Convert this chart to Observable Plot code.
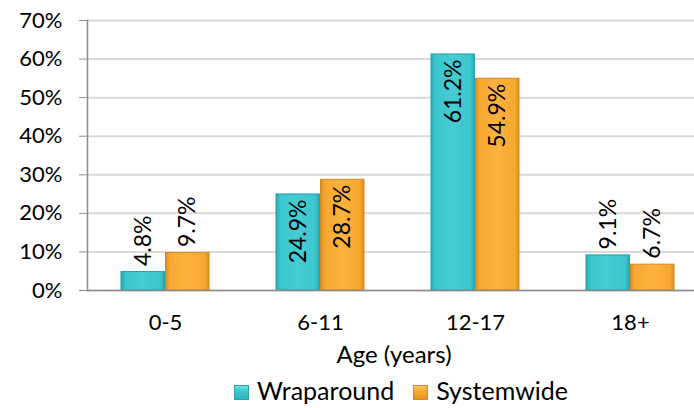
<!DOCTYPE html>
<html>
<head>
<meta charset="utf-8">
<script src="https://cdn.jsdelivr.net/npm/d3@7"></script>
<script src="https://cdn.jsdelivr.net/npm/@observablehq/plot@0.6"></script>
<style>
  html, body { margin: 0; padding: 0; background: #fff; overflow: hidden; }
  #wrap { width: 694px; font-family: Lato, "Open Sans", sans-serif; }
  .legend { display: flex; justify-content: center; align-items: center; gap: 19px; font-size: 25px; line-height: 28px; height: 36px; padding-top: 0px; padding-left: 108px; box-sizing: border-box; width: 694px; color: #000; }
  .legend span.sw { display: inline-block; width: 15px; height: 15px; margin-right: 8px; vertical-align: middle; box-sizing: border-box; position: relative; top: -1px; }
</style>
</head>
<body>
<div id="wrap"></div>
<script>
const categories = ["0-5", "6-11", "12-17", "18+"];
const wraparound = [4.8, 24.9, 61.2, 9.1];
const systemwide = [9.7, 28.7, 54.9, 6.7];
const yTicks = [0, 10, 20, 30, 40, 50, 60, 70];
const seriesNames = ["Wraparound", "Systemwide"];

const wData = categories.map((c, i) => ({cat: c, v: wraparound[i]}));
const sData = categories.map((c, i) => ({cat: c, v: systemwide[i]}));
const fmt = d => d.v.toFixed(1) + "%";
const inside = d => d.v >= 15;

const font = "Lato, 'Open Sans', sans-serif";
const chart = Plot.plot({
  width: 694,
  height: 372,
  marginTop: 20,
  marginBottom: 82,
  marginLeft: 87,
  marginRight: 0,
  style: {fontFamily: font, fontSize: "22px", color: "#000", background: "#fff"},
  x: {domain: categories, range: [87, 708], paddingInner: 0.43, paddingOuter: 0.215},
  y: {domain: [0, 70], range: [290, 20]},
  marks: [
    Plot.gridY(yTicks, {stroke: "#d9d9d9", strokeOpacity: 1, strokeWidth: 2}),
    Plot.barY(wData, {x: "cat", y: "v", insetRight: 44.5, fill: "url(#gCyan)", stroke: "#2a9fa6", strokeWidth: 1}),
    Plot.barY(sData, {x: "cat", y: "v", insetLeft: 44.5, fill: "url(#gOrange)", stroke: "#cf8a25", strokeWidth: 1}),
    Plot.ruleY([0], {stroke: "#8c8c8c", strokeWidth: 1.5}),
    Plot.frame({anchor: "left", stroke: "#8c8c8c", strokeWidth: 1.5}),
    Plot.axisY(yTicks, {tickSize: 8, tickPadding: 17, stroke: "#8c8c8c", tickFormat: d => d + "%", fontSize: 22, label: null}),
    Plot.axisX({tickSize: 0, tickPadding: 24, fontSize: 22, label: null}),
    Plot.text(["Age (years)"], {frameAnchor: "bottom", dx: 3, dy: 72, fontSize: 24}),
    Plot.text(wData.filter(d => !inside(d)), {x: "cat", y: "v", text: fmt, dx: -22, dy: -6, rotate: -90, textAnchor: "start", fontSize: 23}),
    Plot.text(wData.filter(inside), {x: "cat", y: "v", text: fmt, dx: -22, dy: 5, rotate: -90, textAnchor: "end", fontSize: 23}),
    Plot.text(sData.filter(d => !inside(d)), {x: "cat", y: "v", text: fmt, dx: 22, dy: -6, rotate: -90, textAnchor: "start", fontSize: 23}),
    Plot.text(sData.filter(inside), {x: "cat", y: "v", text: fmt, dx: 22, dy: 5, rotate: -90, textAnchor: "end", fontSize: 23})
  ]
});

const defs = d3.select(chart).insert("defs", ":first-child");
function grad(id, edge, face, light) {
  const g = defs.append("linearGradient").attr("id", id).attr("x1", 0).attr("x2", 1).attr("y1", 0).attr("y2", 0);
  g.append("stop").attr("offset", "0%").attr("stop-color", edge);
  g.append("stop").attr("offset", "10%").attr("stop-color", face);
  g.append("stop").attr("offset", "50%").attr("stop-color", light);
  g.append("stop").attr("offset", "90%").attr("stop-color", face);
  g.append("stop").attr("offset", "100%").attr("stop-color", edge);
}
grad("gCyan", "#2aa8b0", "#3cc6ce", "#45ccd4");
grad("gOrange", "#dc8d22", "#f8a831", "#fbb23c");

const wrap = document.getElementById("wrap");
wrap.appendChild(chart);
const legend = document.createElement("div");
legend.className = "legend";
const swatches = [
  "linear-gradient(#72dfe5, #3cc6ce 40%, #2fb3bb)",
  "linear-gradient(#fcc766, #f8a831 40%, #e6961f)"
];
seriesNames.forEach((n, i) => {
  const item = document.createElement("div");
  item.innerHTML = `<span class="sw" style="background:${swatches[i]};border:1px solid ${i ? '#cf8a25' : '#2a9fa6'}"></span>${n}`;
  legend.appendChild(item);
});
wrap.appendChild(legend);
</script>
</body>
</html>
